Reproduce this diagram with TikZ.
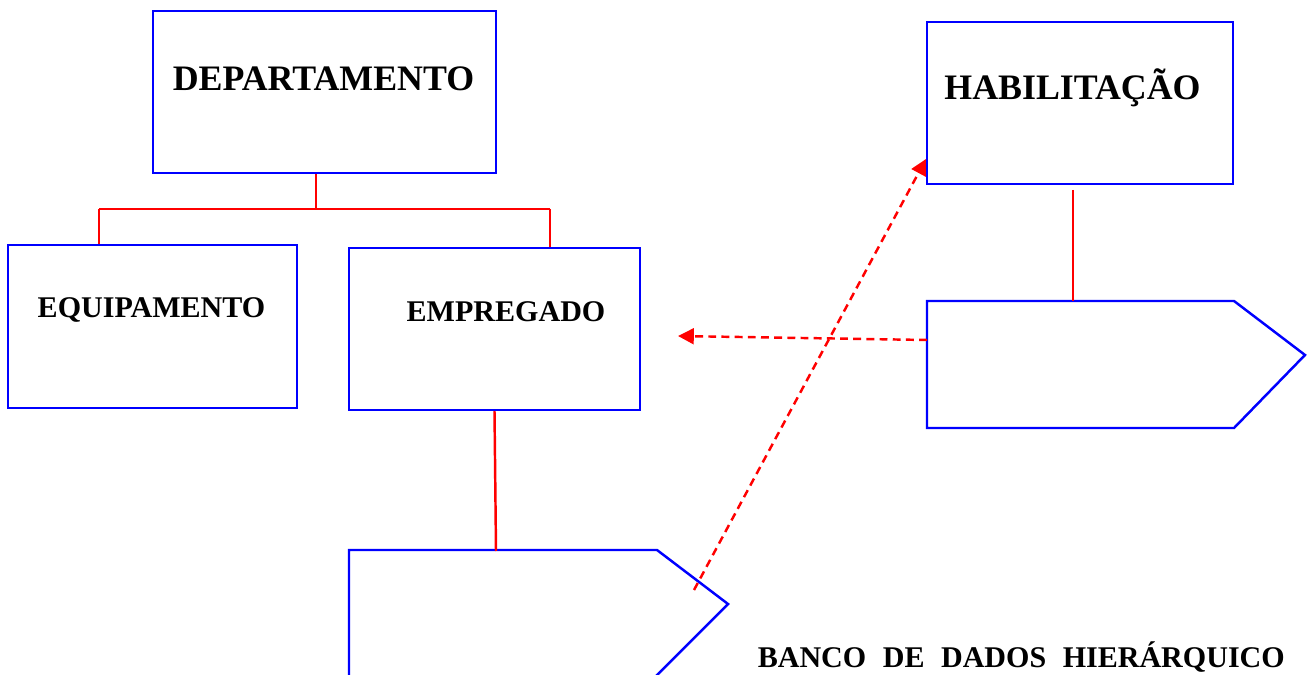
\documentclass[tikz,border=0pt]{standalone}
\usepackage{fontspec}
\setmainfont{Liberation Serif}
\usetikzlibrary{positioning,arrows.meta}

\begin{document}
\begin{tikzpicture}[x=0.02cm, y=-0.02cm,
    caixa/.style={draw=blue, line width=1.4pt, inner sep=0pt},
    titulo/.style={font=\bfseries\fontsize{20.4}{24}\selectfont, anchor=base},
    rotulo/.style={font=\bfseries\fontsize{17.1}{20}\selectfont, anchor=base},
    liga/.style={draw=red, line width=1.4pt},
    seta/.style={draw=red, line width=1.4pt, dash pattern=on 4.5pt off 3pt,
        -{Triangle[length=9pt,width=9pt]}}]
    \useasboundingbox (0,0) rectangle (1308,675);

    % Caixas dos registros
    \node[caixa, minimum width=6.86cm, minimum height=3.24cm] (dep) at (324.5,92) {};
    \node[caixa, minimum width=5.78cm, minimum height=3.26cm] (equip) at (152.5,326.5) {};
    \node[caixa, minimum width=5.82cm, minimum height=3.24cm] (emp) at (494.5,329) {};
    \node[caixa, minimum width=6.12cm, minimum height=3.24cm] (hab) at (1080,103) {};

    % Textos
    \node[titulo] (tdep) at (323.5,91) {DEPARTAMENTO};
    \node[rotulo] (tequip) at (151.5,318) {EQUIPAMENTO};
    \node[rotulo] (temp) at (506,322) {EMPREGADO};
    \node[titulo] (thab) at (1072.5,100) {HABILITAÇÃO};
    \node[rotulo, anchor=base east] (tbanco) at (1291,667)
        {BANCO\hspace{0.55em}DE\hspace{0.55em}DADOS\hspace{0.55em}HIERÁRQUICO};

    % Registros de ligacao (pentagonos)
    \coordinate (pb1) at (349,677);
    \coordinate (pb2) at (349,550);
    \coordinate (pb3) at (657,550);
    \coordinate (pb4) at (728,604);
    \coordinate (pb5) at (655,677);
    \draw[blue, line width=1.4pt] (pb1) -- (pb2) -- (pb3) -- (pb4) -- (pb5);

    \coordinate (pd1) at (927,301);
    \coordinate (pd2) at (1234,301);
    \coordinate (pd3) at (1305,355);
    \coordinate (pd4) at (1234,428);
    \coordinate (pd5) at (927,428);
    \draw[blue, line width=1.4pt] (pd1) -- (pd2) -- (pd3) -- (pd4) -- (pd5) -- cycle;

    % Arvore hierarquica
    \coordinate (r0) at (316,209);
    \coordinate (r1) at (99,209);
    \coordinate (r2) at (550,209);
    \draw[liga] (dep.south -| r0) -- (r0);
    \draw[liga] (r1) -- (r2);
    \draw[liga] (r1) -- (r1 |- equip.north);
    \draw[liga] (r2) -- (r2 |- emp.north);
    \coordinate (eb) at (496,551);
    \draw[liga] (emp.south) -- (eb);
    \coordinate (h0) at (1073,190);
    \coordinate (h1) at (1073,301);
    \draw[liga] (h0) -- (h1);

    % Ponteiros
    \coordinate (pdl) at (927,340);
    \coordinate (pe) at (678,336);
    \draw[seta] (pdl) -- (pe);
    \coordinate (pbl) at (694,590);
    \coordinate (ph) at (926,159);
    \draw[seta] (pbl) -- (ph);
\end{tikzpicture}
\end{document}
